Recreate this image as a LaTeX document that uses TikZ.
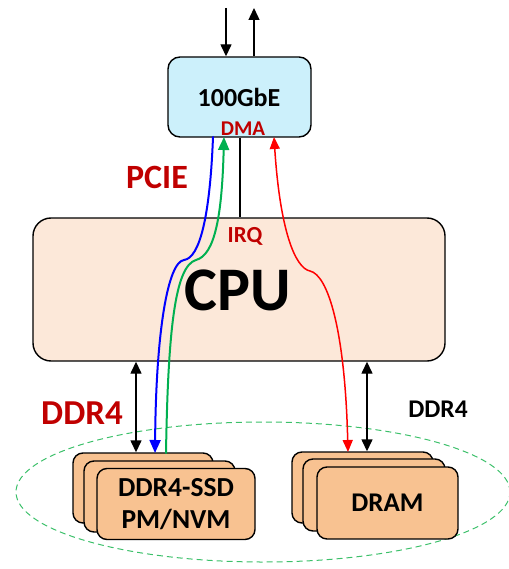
\documentclass[tikz,border=0pt]{standalone}
\usepackage{fontspec}
\setmainfont{Carlito}
\usetikzlibrary{arrows.meta,shapes.geometric}
\definecolor{nicfill}{HTML}{CCF0FB}
\definecolor{cpufill}{HTML}{FCE8D9}
\definecolor{memfill}{HTML}{F8C291}
\definecolor{labelred}{HTML}{C00000}
\definecolor{pathblue}{HTML}{0000FF}
\definecolor{pathgreen}{HTML}{00B050}
\definecolor{pathred}{HTML}{FF0000}
\definecolor{ringgreen}{HTML}{3CC06A}
\newcommand{\fs}[1]{\fontsize{#1}{1.25\dimexpr#1pt\relax}\selectfont\bfseries}
\begin{document}
\begin{tikzpicture}[x=1pt,y=-1pt,
  box/.style={draw=black, line width=1.4pt, rounded corners=#1, inner sep=0pt, anchor=center},
  memcard/.style={box=10pt, fill=memfill},
  tag/.style={inner sep=0pt, anchor=center},
  blkarrow/.style={draw=black, line width=1.4pt, -{Triangle[length=12pt,width=11pt]}},
  blkboth/.style={draw=black, line width=1.4pt, {Triangle[length=12pt,width=11pt]}-{Triangle[length=12pt,width=11pt]}},
  flow/.style={line width=#1, line cap=round}
]
\useasboundingbox (0,0) rectangle (508,569);

% memory group outline
\node[ellipse, draw=ringgreen, line width=1pt, dash pattern=on 6pt off 4pt,
      minimum width=494pt, minimum height=140pt, inner sep=0pt] (grp) at (263,492) {};

% network card
\node[box=12pt, fill=nicfill, minimum width=143pt, minimum height=80pt] (nic) at (239.5,97) {};
\node[tag, font=\fs{26}] (niclbl) at (239,97) {100GbE};
\node[tag, font=\fs{21}, text=labelred] (dma) at (243,129) {DMA};

% processor
\node[box=18pt, fill=cpufill, minimum width=412pt, minimum height=143pt] (cpu) at (239,289.5) {};
\node[tag, font=\fs{62}] (cpulbl) at (238,290) {CPU};
\node[tag, font=\fs{23}, text=labelred] (irq) at (245,236) {IRQ};

% bus labels
\node[tag, font=\fs{34}, text=labelred] (pcie) at (157,177) {PCIE};
\node[tag, font=\fs{35}, text=labelred] (ddrl) at (82,413) {DDR4};
\node[tag, font=\fs{25.5}] (ddrr) at (438,409) {DDR4};

% persistent memory modules
\node[memcard, minimum width=140pt, minimum height=70pt] (ssd1) at (143,488) {};
\node[memcard, minimum width=151pt, minimum height=71pt] (ssd2) at (159.5,496.5) {};
\node[memcard, minimum width=158pt, minimum height=71pt, align=center,
      font=\fontsize{27.5}{32}\selectfont\bfseries] (ssd3) at (176,504) {DDR4-SSD\\PM/NVM};

% DRAM modules
\node[memcard, minimum width=141pt, minimum height=71pt] (dram1) at (362.5,487.5) {};
\node[memcard, minimum width=142pt, minimum height=72pt] (dram2) at (374,495) {};
\node[memcard, minimum width=141pt, minimum height=72pt,
      font=\fontsize{27}{32}\selectfont\bfseries] (dram3) at (387.5,503) {DRAM};

% reference columns for the connectors
\coordinate (xin)  at (226,8);
\coordinate (xout) at (254,8);
\coordinate (xirq) at (240,0);
\coordinate (xl)   at (136,0);
\coordinate (xr)   at (367,0);

% network ports
\draw[blkarrow] (xin) -- (nic.north -| xin);
\draw[blkarrow] (nic.north -| xout) -- (xout);

% interrupt line
\draw[black, line width=1.4pt] (nic.south -| xirq) -- (cpu.north -| xirq);

% memory buses
\draw[blkboth] (cpu.south -| xl) -- (ssd1.north -| xl);
\draw[blkboth] (cpu.south -| xr) -- (dram1.north -| xr);

% DMA transfer paths
\coordinate (bS) at (213,137);
\coordinate (bE) at (155,453);
\coordinate (gS) at (166,453);
\coordinate (gE) at (224,137);
\coordinate (rS) at (274,137);
\coordinate (rE) at (348,452);

\draw[flow=2pt, pathblue, -{Triangle[length=13pt,width=11pt]}]
  (bS) .. controls (210,215) and (200,258) .. (184,260)
       .. controls (168,262) and (156,330) .. (bE);
\draw[flow=2pt, pathgreen, -{Triangle[length=13pt,width=11pt]}]
  (gS) .. controls (168,330) and (175,266) .. (196,260)
       .. controls (215,255) and (222,215) .. (gE);
\draw[flow=1.5pt, pathred, {Triangle[length=12pt,width=10pt]}-{Triangle[length=12pt,width=10pt]}]
  (rS) .. controls (280,230) and (295,268) .. (310,271)
       .. controls (328,275) and (345,330) .. (rE);
\end{tikzpicture}
\end{document}
